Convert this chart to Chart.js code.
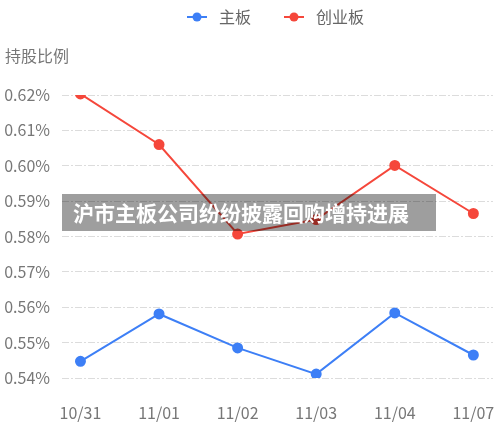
<!DOCTYPE html>
<html>
<head>
<meta charset="utf-8">
<script src="https://cdn.jsdelivr.net/npm/chart.js@4/dist/chart.umd.min.js"></script>
<style>
  html, body { margin: 0; padding: 0; background: #fff; }
  #wrap { position: relative; width: 500px; height: 426px; }
  #banner {
    position: absolute; left: 62px; top: 194px; width: 374px; height: 37px;
    background: rgba(0, 0, 0, 0.38); color: #fff;
    font: bold 21px "Noto Sans CJK SC", sans-serif;
    line-height: 37px; padding-left: 11px; box-sizing: border-box; white-space: nowrap;
  }
</style>
</head>
<body>
<div id="wrap">
  <canvas id="c" width="500" height="426"></canvas>
  <div id="banner">沪市主板公司纷纷披露回购增持进展</div>
</div>
<script>
const categories = ['10/31', '11/01', '11/02', '11/03', '11/04', '11/07'];
const mainBoard = [0.5447, 0.5581, 0.5485, 0.5411, 0.5584, 0.5465];
const chinext = [0.6203, 0.6060, 0.5807, 0.5848, 0.6001, 0.5865];
const seriesNames = ['主板', '创业板'];
const yTicks = [0.54, 0.55, 0.56, 0.57, 0.58, 0.59, 0.60, 0.61, 0.62];
const yTitle = '持股比例';

const FONT = '"Noto Sans CJK SC", "Noto Sans", sans-serif';
const BLUE = '#3d7ff6';
const RED = '#f5473b';

const toPoints = (vals) => vals.map((v, i) => ({ x: i, y: v }));

const headerPlugin = {
  id: 'header',
  afterDraw(chart) {
    const ctx = chart.ctx;
    ctx.save();
    ctx.font = '16px ' + FONT;
    ctx.textBaseline = 'middle';
    // legend
    const items = [
      { name: seriesNames[0], color: BLUE, x: 187 },
      { name: seriesNames[1], color: RED, x: 284 }
    ];
    items.forEach((it) => {
      ctx.strokeStyle = it.color;
      ctx.lineWidth = 2;
      ctx.beginPath();
      ctx.moveTo(it.x, 17);
      ctx.lineTo(it.x + 20, 17);
      ctx.stroke();
      ctx.fillStyle = it.color;
      ctx.beginPath();
      ctx.arc(it.x + 10, 17, 4.5, 0, Math.PI * 2);
      ctx.fill();
      ctx.fillStyle = '#666';
      ctx.textAlign = 'left';
      ctx.fillText(it.name, it.x + 32, 17);
    });
    // y axis title
    ctx.fillStyle = '#777';
    ctx.fillText(yTitle, 5, 56);
    ctx.restore();
  }
};

new Chart(document.getElementById('c').getContext('2d'), {
  type: 'line',
  data: {
    datasets: [
      {
        label: seriesNames[0],
        data: toPoints(mainBoard),
        borderColor: BLUE,
        backgroundColor: BLUE,
        borderWidth: 2,
        pointRadius: 4.5,
        tension: 0
      },
      {
        label: seriesNames[1],
        data: toPoints(chinext),
        borderColor: RED,
        backgroundColor: RED,
        borderWidth: 2,
        pointRadius: 4.5,
        tension: 0
      }
    ]
  },
  options: {
    responsive: false,
    animation: false,
    layout: {
      padding: { top: 95, right: 7, left: 0, bottom: 0 }
    },
    scales: {
      x: {
        type: 'linear',
        min: -0.235,
        max: 5.25,
        afterBuildTicks: (scale) => {
          scale.ticks = categories.map((c, i) => ({ value: i }));
        },
        afterFit: (scale) => {
          scale.height = 48;
          scale.paddingLeft = 0;
          scale.paddingRight = 0;
        },
        grid: { display: false, drawTicks: false },
        border: { display: false },
        ticks: {
          color: '#777',
          font: { family: FONT, size: 16 },
          padding: 25,
          maxRotation: 0,
          autoSkip: false,
          callback: (value) => categories[value]
        }
      },
      y: {
        min: 0.54,
        max: 0.62,
        afterBuildTicks: (scale) => {
          scale.ticks = yTicks.map((v) => ({ value: v }));
        },
        afterFit: (scale) => {
          scale.width = 62;
          scale.paddingTop = 0;
          scale.paddingBottom = 0;
        },
        grid: {
          color: '#dcdcdc',
          drawTicks: false
        },
        border: { display: false, dash: [7, 2, 2, 2] },
        ticks: {
          color: '#777',
          font: { family: FONT, size: 16 },
          padding: 12,
          callback: (value) => value.toFixed(2) + '%'
        }
      }
    },
    plugins: {
      legend: { display: false },
      tooltip: { enabled: false }
    }
  },
  plugins: [headerPlugin]
});
</script>
</body>
</html>
